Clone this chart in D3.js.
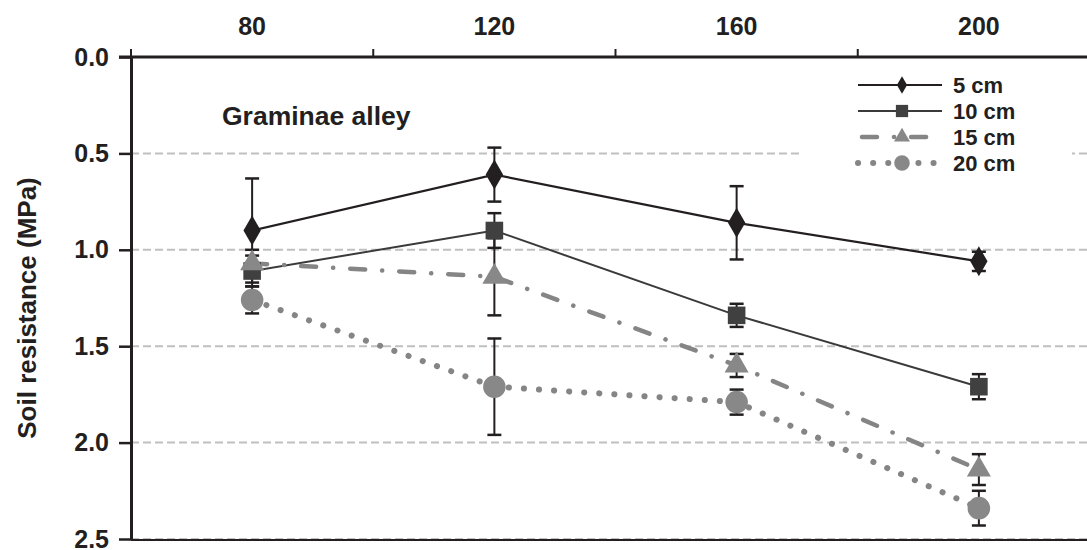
<!DOCTYPE html>
<html>
<head>
<meta charset="utf-8">
<script src="https://cdn.jsdelivr.net/npm/d3@7"></script>
<style>
  body { margin: 0; background: #fff; }
  text { font-family: "Liberation Sans", Arial, sans-serif; font-weight: bold; fill: #231f20; }
</style>
</head>
<body>
<div id="chart"></div>
<script>
// Depth categories (top axis)
const categories = [80, 120, 160, 200];
const yTicks = [0, 0.5, 1.0, 1.5, 2.0, 2.5];

// Soil resistance (MPa) per series, with error bars
const series5 = [0.90, 0.61, 0.86, 1.06];
const err5 = [0.27, 0.14, 0.19, 0.05];
const series10 = [1.11, 0.90, 1.34, 1.71];
const err10 = [0.08, 0.09, 0.06, 0.065];
const series15 = [1.07, 1.14, 1.60, 2.14];
const err15 = [0.07, 0.20, 0.06, 0.08];
const series20 = [1.26, 1.71, 1.79, 2.34];
const err20 = [0.07, 0.25, 0.065, 0.09];
const seriesNames = ["5 cm", "10 cm", "15 cm", "20 cm"];

const width = 1087, height = 550;

const svg = d3.select("#chart")
    .append("svg")
    .attr("width", width)
    .attr("height", height);

const x = d3.scaleBand()
    .domain(categories)
    .range([131, 1100])
    .padding(0);

const y = d3.scaleLinear()
    .domain([0, 2.5])
    .range([57, 539]);

const cx = d => x(d) + x.bandwidth() / 2;

// gridlines
svg.append("g")
    .selectAll("line")
    .data(yTicks.slice(1))
    .enter()
    .append("line")
    .attr("x1", x.range()[0])
    .attr("x2", width)
    .attr("y1", d => y(d))
    .attr("y2", d => y(d))
    .attr("stroke", "#c0c0c0")
    .attr("stroke-width", 2)
    .attr("stroke-dasharray", "8,4");

// series styling
const styles = [
    { values: series5, errs: err5, stroke: "#231f20", width: 2.2, dash: null, cap: "butt", fill: "#231f20", shape: d3.symbolDiamond, size: 260, legSize: 90 },
    { values: series10, errs: err10, stroke: "#3a3a3a", width: 2, dash: null, cap: "butt", fill: "#404040", shape: d3.symbolSquare, size: 310, legSize: 150 },
    { values: series15, errs: err15, stroke: "#858585", width: 4.5, dash: "15,17,0.1,17", cap: "round", fill: "#888888", shape: d3.symbolTriangle, size: 250, legSize: 110 },
    { values: series20, errs: err20, stroke: "#858585", width: 6, dash: "0.1,15", cap: "round", fill: "#888888", shape: d3.symbolCircle, size: 400, legSize: 190 }
];

const line = d3.line()
    .x((d, i) => cx(categories[i]))
    .y(d => y(d));

// lines
styles.forEach(s => {
    svg.append("path")
        .datum(s.values)
        .attr("d", line)
        .attr("fill", "none")
        .attr("stroke", s.stroke)
        .attr("stroke-width", s.width)
        .attr("stroke-dasharray", s.dash)
        .attr("stroke-linecap", s.cap);
});

// error bars
styles.forEach(s => {
    const g = svg.append("g");
    s.values.forEach((v, i) => {
        const px = cx(categories[i]);
        const lo = y(v - s.errs[i]), hi = y(v + s.errs[i]);
        g.append("line").attr("x1", px).attr("x2", px).attr("y1", lo).attr("y2", hi)
            .attr("stroke", "#231f20").attr("stroke-width", 2);
        [lo, hi].forEach(yy => {
            g.append("line").attr("x1", px - 7).attr("x2", px + 7).attr("y1", yy).attr("y2", yy)
                .attr("stroke", "#231f20").attr("stroke-width", 2.5);
        });
    });
});

// markers
styles.forEach(s => {
    svg.append("g")
        .selectAll("path")
        .data(s.values)
        .enter()
        .append("path")
        .attr("d", d3.symbol().type(s.shape).size(s.size))
        .attr("transform", (d, i) => `translate(${cx(categories[i])},${y(d)})`)
        .attr("fill", s.fill);
});

// left axis
const yAxis = svg.append("g")
    .attr("transform", `translate(${x.range()[0]},0)`)
    .call(d3.axisLeft(y).tickValues(yTicks).tickFormat(d3.format(".1f")).tickSize(12).tickPadding(10).tickSizeOuter(0));
yAxis.select(".domain").attr("stroke", "#231f20").attr("stroke-width", 3);
yAxis.selectAll(".tick line").attr("stroke", "#231f20").attr("stroke-width", 2.5);
yAxis.selectAll(".tick text").style("font-size", "25px").attr("font-family", null).attr("fill", "#231f20");

// bottom line
svg.append("line")
    .attr("x1", x.range()[0]).attr("x2", width)
    .attr("y1", y(2.5) + 1).attr("y2", y(2.5) + 1)
    .attr("stroke", "#231f20").attr("stroke-width", 2);

// top axis
const xAxis = svg.append("g")
    .attr("transform", `translate(0,${y(0)})`)
    .call(d3.axisTop(x).tickSize(0).tickPadding(22).tickSizeOuter(0));
xAxis.select(".domain").remove();
xAxis.selectAll(".tick text").style("font-size", "25px").attr("font-family", null).attr("fill", "#231f20");
svg.append("line")
    .attr("x1", x.range()[0] - 12).attr("x2", width)
    .attr("y1", y(0)).attr("y2", y(0))
    .attr("stroke", "#231f20").attr("stroke-width", 3);
svg.append("g")
    .selectAll("line")
    .data(categories)
    .enter()
    .append("line")
    .attr("x1", d => x(d)).attr("x2", d => x(d))
    .attr("y1", y(0) - 8).attr("y2", y(0))
    .attr("stroke", "#231f20").attr("stroke-width", 2);

// y label
svg.append("text")
    .attr("transform", "translate(36,308) rotate(-90)")
    .attr("text-anchor", "middle")
    .style("font-size", "26px")
    .text("Soil resistance (MPa)");

// title inside plot
svg.append("text")
    .attr("x", 222)
    .attr("y", 125)
    .style("font-size", "26.5px")
    .text("Graminae alley");

// legend
const legend = svg.append("g").attr("transform", "translate(800,68)");
legend.append("rect")
    .attr("x", 0).attr("y", 0)
    .attr("width", 272).attr("height", 115)
    .attr("fill", "#fff");

const leg = legend.selectAll(".legend")
    .data(styles)
    .enter()
    .append("g")
    .attr("class", "legend")
    .attr("transform", (d, i) => `translate(0,${17 + i * 26})`);

leg.append("line")
    .attr("x1", 58).attr("x2", 142)
    .attr("y1", 0).attr("y2", 0)
    .attr("stroke", d => d.stroke)
    .attr("stroke-width", d => d.width)
    .attr("stroke-dasharray", (d, i) => i === 2 ? "15,17,0.1,17" : d.dash)
    .attr("stroke-dashoffset", (d, i) => i === 2 ? -4 : 0)
    .attr("stroke-linecap", d => d.cap);

leg.append("path")
    .attr("d", d => d3.symbol().type(d.shape).size(d.legSize)())
    .attr("transform", "translate(102,0)")
    .attr("fill", d => d.fill);

leg.append("text")
    .attr("x", 153)
    .attr("y", 0)
    .attr("dy", "0.35em")
    .style("font-size", "22px")
    .text((d, i) => seriesNames[i]);
</script>
</body>
</html>
